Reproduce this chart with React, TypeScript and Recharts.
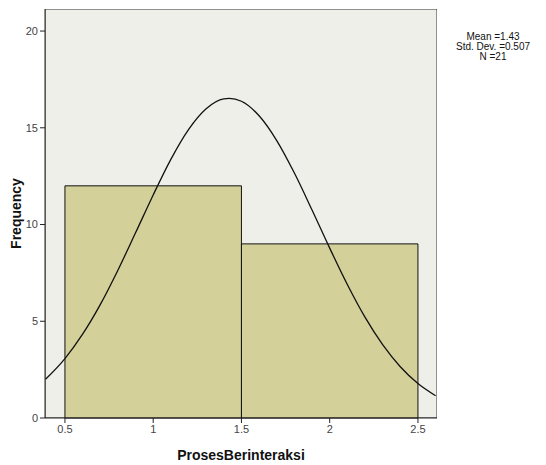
import React from 'react';
import { ComposedChart, XAxis, YAxis, Line, ReferenceArea } from 'recharts';

// histogram bins (ProsesBerinteraksi)
const binStart = [0.5, 1.5];
const binEnd = [1.5, 2.5];
const frequency = [12, 9];

// fitted normal curve
const curveX = [0.39, 0.5, 0.6, 0.7, 0.8, 0.9, 1.0, 1.1, 1.2, 1.3, 1.4, 1.43, 1.5, 1.6, 1.7, 1.8, 1.9, 2.0, 2.1, 2.2, 2.3, 2.4, 2.5, 2.6];
const curveY = [2.0, 3.07, 4.33, 5.86, 7.64, 9.57, 11.53, 13.37, 14.91, 15.99, 16.5, 16.52, 16.37, 15.62, 14.34, 12.66, 10.75, 8.78, 6.9, 5.21, 3.79, 2.65, 1.78, 1.15];

const xTicks = [0.5, 1, 1.5, 2, 2.5];
const yTicks = [0, 5, 10, 15, 20];
const statLines = ['Mean =1.43', 'Std. Dev. =0.507', 'N =21'];

const curve = curveX.map((x, i) => ({ x, y: curveY[i] }));

const font = 'Liberation Sans, Arial, sans-serif';
const xMin = 0.387;
const xMax = 2.608;
const yMax = 21.14;

export default function App() {
  return (
    <div style={{ position: 'absolute', left: 0, top: 0, width: 546, height: 465, background: '#fff', fontFamily: font }}>
      <ComposedChart width={546} height={465} data={curve} margin={{ top: 9, right: 109, left: 0, bottom: 0 }}>
        <XAxis
          type="number"
          dataKey="x"
          domain={[xMin, xMax]}
          ticks={xTicks}
          allowDataOverflow
          height={47}
          tick={{ fontSize: 11, fill: '#444', fontFamily: font }}
          tickSize={5}
          stroke="#222"
          label={{ value: 'ProsesBerinteraksi', position: 'insideBottom', offset: 5, style: { fontSize: 14, fontWeight: 'bold', fill: '#111', fontFamily: font } }}
        />
        <YAxis
          type="number"
          domain={[0, yMax]}
          ticks={yTicks}
          allowDataOverflow
          width={45}
          tick={{ fontSize: 11, fill: '#444', fontFamily: font }}
          tickSize={5}
          stroke="#222"
          label={{ value: 'Frequency', angle: -90, position: 'insideLeft', offset: 16, style: { textAnchor: 'middle', fontSize: 14, fontWeight: 'bold', fill: '#111', fontFamily: font } }}
        />
        <ReferenceArea x1={xMin} x2={xMax} y1={0} y2={yMax} fill="#efefea" fillOpacity={1} stroke="#333" strokeWidth={1} ifOverflow="hidden" />
        {frequency.map((f, i) => (
          <ReferenceArea key={i} x1={binStart[i]} x2={binEnd[i]} y1={0} y2={f} fill="#d4d09a" fillOpacity={1} stroke="#111" strokeWidth={1} />
        ))}
        <Line type="monotone" dataKey="y" stroke="#111" strokeWidth={1.3} dot={false} isAnimationActive={false} />
      </ComposedChart>
      <div style={{ position: 'absolute', left: 440, top: 32, width: 106, textAlign: 'center', fontSize: 10, lineHeight: '10px', color: '#111' }}>
        {statLines.map((s) => (
          <div key={s}>{s}</div>
        ))}
      </div>
    </div>
  );
}
